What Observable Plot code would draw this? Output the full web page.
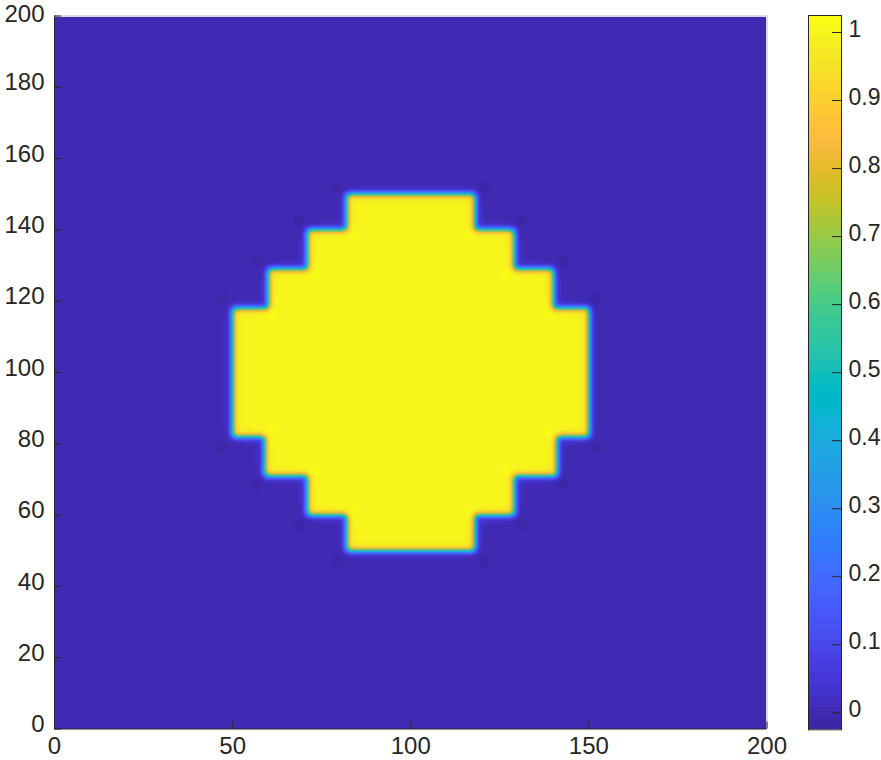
<!DOCTYPE html>
<html>
<head>
<meta charset="utf-8">
<script src="https://cdn.jsdelivr.net/npm/d3@7"></script>
<script src="https://cdn.jsdelivr.net/npm/@observablehq/plot@0.6"></script>
<style>
  html, body { margin: 0; padding: 0; background: #fff; }
  #wrap { position: relative; width: 881px; height: 760px; overflow: hidden; }
  #wrap > svg { position: absolute; top: 0; }
</style>
</head>
<body>
<div id="wrap"></div>
<script>
// ---------- data ----------
const xTicks = [0, 50, 100, 150, 200];
const yTicks = [0, 20, 40, 60, 80, 100, 120, 140, 160, 180, 200];
const cbTicks = [0, 0.1, 0.2, 0.3, 0.4, 0.5, 0.6, 0.7, 0.8, 0.9, 1];
const colorLimits = [-0.025, 1.025];
const fieldExtent = [0, 200];

// stepped disc (value 1) on a background of 0: horizontal bands y0..y1 spanning x0..x1
const bandY0 = [140, 129, 118, 82, 71, 60, 50];
const bandY1 = [150, 140, 129, 118, 82, 71, 60];
const bandX0 = [82, 71, 60, 50, 59, 71, 82];
const bandX1 = [118, 129, 140, 150, 141, 129, 118];
const insideValue = 1;
const outsideValue = 0;

// small undershoot spots just outside the outer step corners
const lowSpotX = [79.4, 120.6, 68.6, 130.9, 56.9, 142.6, 47.1, 152.0, 47.1, 152.0, 56.9, 142.6, 68.6, 130.9, 79.4, 120.6];
const lowSpotY = [152.0, 152.0, 142.6, 142.6, 130.9, 130.9, 120.7, 120.7, 79.0, 79.0, 68.8, 68.8, 57.1, 57.1, 47.3, 47.3];
const lowSpotValue = -0.02;
// small overshoot spots just inside the inner step corners
const highSpotX = [83.6, 116.4, 72.8, 126.7, 60.7, 138.8, 60.7, 138.8, 72.8, 126.7, 83.6, 116.4];
const highSpotY = [138.9, 138.9, 127.2, 127.2, 116.5, 116.5, 83.3, 83.3, 72.5, 72.5, 60.8, 60.8];
const highSpotValue = 0.018;

// ---------- style: parula colormap (64 entries) ----------
const parulaRGB = [
[0.2422,0.1504,0.6603],[0.2504,0.1650,0.7076],[0.2578,0.1818,0.7511],[0.2647,0.1978,0.7952],
[0.2706,0.2147,0.8364],[0.2751,0.2342,0.8710],[0.2783,0.2559,0.8991],[0.2803,0.2782,0.9221],
[0.2813,0.3006,0.9414],[0.2810,0.3228,0.9579],[0.2795,0.3447,0.9717],[0.2760,0.3667,0.9829],
[0.2699,0.3892,0.9906],[0.2602,0.4123,0.9952],[0.2440,0.4358,0.9988],[0.2206,0.4603,0.9973],
[0.1963,0.4847,0.9892],[0.1834,0.5074,0.9798],[0.1786,0.5289,0.9682],[0.1764,0.5499,0.9520],
[0.1687,0.5703,0.9359],[0.1540,0.5902,0.9218],[0.1460,0.6091,0.9079],[0.1380,0.6276,0.8973],
[0.1248,0.6459,0.8883],[0.1113,0.6635,0.8763],[0.0952,0.6798,0.8598],[0.0689,0.6948,0.8394],
[0.0297,0.7082,0.8163],[0.0036,0.7203,0.7917],[0.0067,0.7312,0.7660],[0.0433,0.7411,0.7394],
[0.0964,0.7500,0.7120],[0.1408,0.7584,0.6842],[0.1717,0.7670,0.6554],[0.1938,0.7758,0.6251],
[0.2161,0.7843,0.5923],[0.2470,0.7918,0.5567],[0.2906,0.7973,0.5188],[0.3406,0.8008,0.4789],
[0.3909,0.8029,0.4354],[0.4456,0.8024,0.3909],[0.5044,0.7993,0.3480],[0.5616,0.7942,0.3045],
[0.6174,0.7876,0.2612],[0.6720,0.7793,0.2227],[0.7242,0.7698,0.1910],[0.7738,0.7598,0.1646],
[0.8203,0.7498,0.1535],[0.8634,0.7406,0.1596],[0.9035,0.7330,0.1774],[0.9393,0.7288,0.2100],
[0.9728,0.7298,0.2394],[0.9956,0.7434,0.2371],[0.9970,0.7659,0.2199],[0.9952,0.7893,0.2028],
[0.9892,0.8136,0.1885],[0.9786,0.8386,0.1766],[0.9676,0.8639,0.1643],[0.9610,0.8890,0.1537],
[0.9597,0.9135,0.1423],[0.9628,0.9373,0.1265],[0.9691,0.9606,0.1064],[0.9769,0.9839,0.0805]
];
const parula = parulaRGB.map(([r, g, b]) => d3.rgb(r * 255, g * 255, b * 255).formatHex());
const ink = "#262626";
const font = "'Liberation Sans', Arial, Helvetica, sans-serif";

// ---------- build the field grid from the bands ----------
const N = 400;
const cell = (fieldExtent[1] - fieldExtent[0]) / N;
const mask = new Float64Array(N * N).fill(outsideValue);
for (let j = 0; j < N; ++j) {
  const y = fieldExtent[0] + (j + 0.5) * cell;
  for (let i = 0; i < N; ++i) {
    const x = fieldExtent[0] + (i + 0.5) * cell;
    for (let b = 0; b < bandY0.length; ++b) {
      if (y >= bandY0[b] && y < bandY1[b] && x >= bandX0[b] && x < bandX1[b]) { mask[j * N + i] = insideValue; break; }
    }
  }
}
// soft edges (rendering smoothing of the sharp step field)
function gaussBlur(src, n, sigmaCells) {
  const rad = Math.ceil(sigmaCells * 3);
  const k = [];
  let s = 0;
  for (let t = -rad; t <= rad; ++t) { const w = Math.exp(-t * t / (2 * sigmaCells * sigmaCells)); k.push(w); s += w; }
  for (let t = 0; t < k.length; ++t) k[t] /= s;
  const tmp = new Float64Array(n * n), out = new Float64Array(n * n);
  for (let j = 0; j < n; ++j) for (let i = 0; i < n; ++i) {
    let acc = 0;
    for (let t = -rad; t <= rad; ++t) { const ii = Math.min(n - 1, Math.max(0, i + t)); acc += k[t + rad] * src[j * n + ii]; }
    tmp[j * n + i] = acc;
  }
  for (let j = 0; j < n; ++j) for (let i = 0; i < n; ++i) {
    let acc = 0;
    for (let t = -rad; t <= rad; ++t) { const jj = Math.min(n - 1, Math.max(0, j + t)); acc += k[t + rad] * tmp[jj * n + i]; }
    out[j * n + i] = acc;
  }
  return out;
}
const sharp = gaussBlur(mask, N, 0.8 / cell);
const wide = gaussBlur(mask, N, 2.0 / cell);
const field = Array.from(sharp, (v, idx) => 0.95 * v + 0.05 * wide[idx]);
// add the read-off spots as soft bumps
function addSpots(X, Y, amp, sigma) {
  const r = Math.ceil(3 * sigma / cell);
  for (let s = 0; s < X.length; ++s) {
    const ci = Math.floor((X[s] - fieldExtent[0]) / cell), cj = Math.floor((Y[s] - fieldExtent[0]) / cell);
    for (let j = Math.max(0, cj - r); j <= Math.min(N - 1, cj + r); ++j) {
      for (let i = Math.max(0, ci - r); i <= Math.min(N - 1, ci + r); ++i) {
        const dx = fieldExtent[0] + (i + 0.5) * cell - X[s], dy = fieldExtent[0] + (j + 0.5) * cell - Y[s];
        field[j * N + i] += amp * Math.exp(-(dx * dx + dy * dy) / (2 * sigma * sigma));
      }
    }
  }
}
addSpots(lowSpotX, lowSpotY, lowSpotValue, 1.3);
addSpots(highSpotX, highSpotY, highSpotValue, 1.3);

const colorScale = {type: "quantize", domain: colorLimits, range: parula};
const yTop = yTicks[yTicks.length - 1];

// ---------- main heatmap ----------
const main = Plot.plot({
  width: 881,
  height: 760,
  marginLeft: 54,
  marginRight: 114.5,
  marginTop: 15.5,
  marginBottom: 31.5,
  style: {fontFamily: font, fontSize: "24px", color: ink, background: "white", overflow: "visible"},
  x: {domain: fieldExtent},
  y: {domain: fieldExtent},
  color: colorScale,
  marks: [
    Plot.raster(field, {width: N, height: N, x1: fieldExtent[0], y1: fieldExtent[0], x2: fieldExtent[1], y2: fieldExtent[1], imageRendering: "auto"}),
    Plot.ruleY([fieldExtent[1]], {stroke: "#dcdce0", strokeWidth: 2}),
    Plot.ruleX([fieldExtent[1]], {stroke: "#dcdce0", strokeWidth: 2}),
    Plot.ruleX([fieldExtent[0]], {stroke: ink, strokeWidth: 1}),
    Plot.ruleY([fieldExtent[0]], {stroke: ink, strokeWidth: 1}),
    Plot.ruleX(xTicks, {x: d => d, y1: fieldExtent[0], y2: fieldExtent[0], insetTop: -7, stroke: ink}),
    Plot.ruleY(yTicks, {y: d => d, x1: fieldExtent[0], x2: fieldExtent[0], insetRight: -7, stroke: ink}),
    Plot.axisX(xTicks, {tickSize: 0, tickPadding: 8, label: null, fill: ink}),
    Plot.axisY(yTicks.filter(d => d !== yTop), {tickSize: 0, tickPadding: 10, label: null, dy: -4.5, fill: ink}),
    Plot.axisY([yTop], {tickSize: 0, tickPadding: 10, label: null, dy: -1.5, fill: ink})
  ]
});
main.style.left = "0px";
document.getElementById("wrap").appendChild(main);

// ---------- colorbar ----------
const cbN = parula.length;
const cbStep = (colorLimits[1] - colorLimits[0]) / cbN;
const cbBands = d3.range(cbN).map(i => ({lo: colorLimits[0] + i * cbStep, hi: colorLimits[0] + (i + 1) * cbStep}));
const bar = Plot.plot({
  width: 91,
  height: 760,
  marginLeft: 18,
  marginRight: 40,
  marginTop: 15,
  marginBottom: 30.7,
  style: {fontFamily: font, fontSize: "23px", color: ink, background: "transparent", overflow: "visible"},
  x: {domain: [0, 1], axis: null},
  y: {domain: colorLimits, axis: null},
  color: colorScale,
  marks: [
    Plot.rect(cbBands, {x1: 0, x2: 1, y1: "lo", y2: "hi", fill: d => (d.lo + d.hi) / 2, shapeRendering: "crispEdges"}),
    Plot.frame({stroke: ink, strokeWidth: 1}),
    Plot.ruleY(cbTicks, {y: d => d, x1: 1, x2: 1, insetLeft: -9, stroke: ink}),
    Plot.axisY(cbTicks, {anchor: "right", tickSize: 0, tickPadding: 7, label: null, dy: -3, fill: ink, tickFormat: d => String(d)})
  ]
});
bar.style.left = "790px";
document.getElementById("wrap").appendChild(bar);
</script>
</body>
</html>
